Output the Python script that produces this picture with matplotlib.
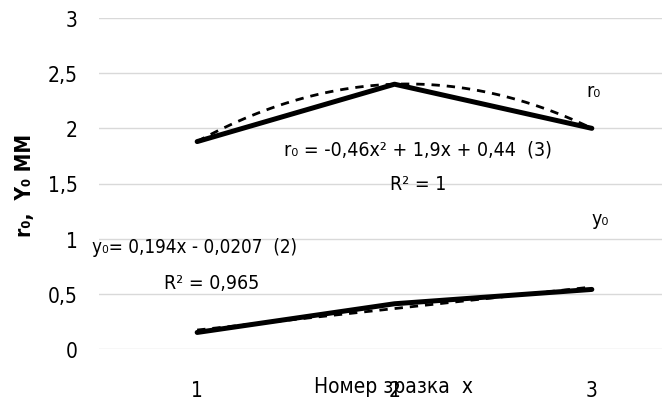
import numpy as np
import matplotlib.pyplot as plt

# Дані
x = [1, 2, 3]
r0 = [1.88, 2.40, 2.00]
y0 = [0.15, 0.41, 0.54]
y_ticks = [0, 0.5, 1, 1.5, 2, 2.5, 3]
y_tick_labels = ["0", "0,5", "1", "1,5", "2", "2,5", "3"]

plt.rcParams['font.family'] = ['DejaVu Sans']
plt.rcParams['font.stretch'] = 'condensed'

fig = plt.figure(figsize=(6.62, 4.14), dpi=100)
# область графіка виходить за правий край (як у вихідному рисунку)
ax = fig.add_axes([98.5 / 662, 64 / 414, 592 / 662, 331 / 414])

# основні лінії
ax.plot(x, r0, color="black", lw=3.6, solid_capstyle="round", zorder=3)
ax.plot(x, y0, color="black", lw=3.6, solid_capstyle="round", zorder=3)

# лінії тренду
xx = np.linspace(1, 3, 60)
p_r = np.polyfit(x, r0, 2)
p_y = np.polyfit(x, y0, 1)
ax.plot(xx, np.polyval(p_r, xx), color="black", lw=2, ls=(0, (3, 2.5)), zorder=2)
ax.plot(xx, np.polyval(p_y, xx), color="black", lw=2, ls=(0, (3, 2.5)), zorder=2)

ax.set_xlim(0.5, 3.5)
ax.set_ylim(0, 3)
ax.set_yticks(y_ticks)
ax.set_yticklabels(y_tick_labels)
ax.set_xticks(x)
ax.set_xticklabels([str(v) for v in x])
ax.tick_params(length=0, labelsize=15, pad=15)
ax.tick_params(axis="x", pad=22)
ax.grid(axis="y", color="#d9d9d9", lw=1)
ax.set_axisbelow(True)
for s in ax.spines.values():
    s.set_visible(False)

# підписи
ax.text(2.12, 1.81, "r₀ = -0,46x² + 1,9x + 0,44  (3)", ha="center", va="center", fontsize=14)
ax.text(2.12, 1.50, "R² = 1", ha="center", va="center", fontsize=14)
ax.text(0.985, 0.925, "y₀= 0,194x - 0,0207  (2)", ha="center", va="center", fontsize=13.5)
ax.text(1.075, 0.60, "R² = 0,965", ha="center", va="center", fontsize=14)
ax.text(3.01, 2.34, "r₀", ha="center", va="center", fontsize=14)
ax.text(3.04, 1.18, "y₀", ha="center", va="center", fontsize=14)

fig.text(393 / 662, 1 - 387 / 414, "Номер зразка  x", ha="center", va="center", fontsize=15)
fig.text(25 / 662, 1 - 185 / 414, "r₀,  Y₀ ММ", ha="center", va="center",
         rotation=90, fontsize=15, fontweight="bold")

fig.savefig("out.png", dpi=100)
